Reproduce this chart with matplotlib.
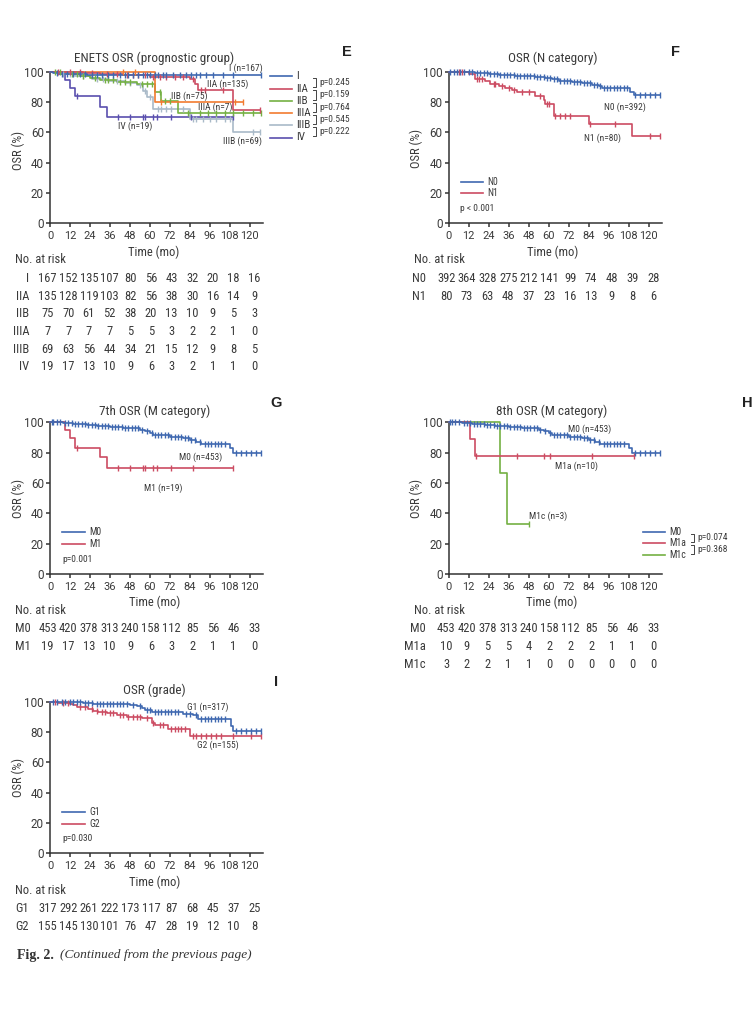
import numpy as np
import matplotlib
matplotlib.use("Agg")
import matplotlib.pyplot as plt
import matplotlib.transforms as mtransforms
from matplotlib.lines import Line2D
from matplotlib import font_manager

# pick a narrow sans if one is there
ttf = font_manager.fontManager.ttflist
names = {f.name for f in ttf}
cond_dejavu = [f for f in ttf if f.name == "DejaVu Sans" and "Condensed" in f.fname]
if "Liberation Sans Narrow" in names:
    plt.rcParams['font.family'] = ['Liberation Sans Narrow', 'DejaVu Sans']
    K = 1.0
elif "Roboto Condensed" in names:
    plt.rcParams['font.family'] = ['Roboto Condensed', 'DejaVu Sans']
    K = 1.0
elif cond_dejavu:
    plt.rcParams['font.family'] = ['DejaVu Sans']
    plt.rcParams['font.stretch'] = 'condensed'
    K = 0.92
else:
    plt.rcParams['font.family'] = ['Liberation Sans', 'DejaVu Sans']
    K = 0.86
TICK_FONT = ['Roboto', 'Liberation Sans', 'DejaVu Sans']

W, H = 752, 1031
BLUE = "#3f68b0"
RED = "#cc4c62"
GREEN = "#74b043"
ORANGE = "#f27b30"
GRAY = "#a9bac8"
PURPLE = "#5a4fae"
TXT = "#3a3a3a"

risk_times = [0, 12, 24, 36, 48, 60, 72, 84, 96, 108, 120]

# ---- E: ENETS prognostic group
e_groups = ["I", "IIA", "IIB", "IIIA", "IIIB", "IV"]
e_risk = [
    [167, 152, 135, 107, 80, 56, 43, 32, 20, 18, 16],
    [135, 128, 119, 103, 82, 56, 38, 30, 16, 14, 9],
    [75, 70, 61, 52, 38, 20, 13, 10, 9, 5, 3],
    [7, 7, 7, 7, 5, 5, 3, 2, 2, 1, 0],
    [69, 63, 56, 44, 34, 21, 15, 12, 9, 8, 5],
    [19, 17, 13, 10, 9, 6, 3, 2, 1, 1, 0],
]
e_pvals = ["p=0.245", "p=0.159", "p=0.764", "p=0.545", "p=0.222"]
e_I_t = [2, 5, 22]
e_I_s = [99.4, 98.7, 97.9]
e_I_c = [4, 7, 10, 14, 18, 21, 25, 28, 31, 35, 38, 42, 45, 47, 50, 53, 56, 58, 60, 63,
         65, 68, 70, 74, 78, 82, 85, 88, 90, 94, 98, 104, 110, 127]
e_IIA_t = [20, 30, 44, 60, 84, 87, 89, 110]
e_IIA_s = [99.2, 98.4, 97.5, 96.5, 95.0, 92.0, 87.6, 74.5]
e_IIA_c = [5, 12, 18, 25, 34, 40, 46, 50, 53, 57, 62, 66, 70, 75, 80, 86, 91, 93, 104, 126]
e_IIB_t = [10, 18, 24, 30, 40, 52, 63, 67, 77]
e_IIB_s = [98.5, 97.0, 95.7, 94.3, 93.2, 91.8, 86.3, 80.4, 72.8]
e_IIB_c = [3, 6, 13, 16, 20, 27, 33, 35, 38, 42, 45, 48, 55, 58, 61, 66, 69, 72, 83, 90,
           95, 100, 105, 110, 116, 122, 127]
e_IIIA_t = [63]
e_IIIA_s = [80.0]
e_IIIA_c = [44, 51, 67, 111, 116]
e_IIIB_t = [5, 15, 25, 35, 45, 52, 56, 58, 62, 84, 110]
e_IIIB_s = [98.5, 97.0, 95.5, 94.0, 92.5, 91.0, 87.0, 83.5, 75.5, 69.0, 60.5]
e_IIIB_c = [8, 12, 20, 28, 32, 40, 48, 54, 57, 60, 65, 67, 70, 73, 80, 86, 88, 92, 96,
            100, 105, 108, 122, 126]
e_IV_t = [9, 12, 15, 30, 34]
e_IV_s = [94.7, 89.5, 83.8, 77.0, 70.0]
e_IV_c = [16, 41, 48, 56, 57, 62, 64, 73, 85, 110]

# ---- F: N category
f_groups = ["N0", "N1"]
f_risk = [
    [392, 364, 328, 275, 212, 141, 99, 74, 48, 39, 28],
    [80, 73, 63, 48, 37, 23, 16, 13, 9, 8, 6],
]
f_N0_t = [10, 16, 24, 30, 40, 48, 52, 58, 62, 66, 74, 80, 86, 90, 92, 109, 111]
f_N0_s = [99.6, 99.0, 98.4, 97.8, 97.4, 97.0, 96.5, 95.6, 95.0, 94.0, 93.5, 92.5, 91.5,
          90.5, 89.5, 86.5, 84.6]
f_N0_c = [1, 3, 5, 7, 9, 12, 14, 17, 19, 21, 23, 25, 27, 29, 31, 33, 35, 37, 39, 41, 43,
          45, 47, 49, 51, 53, 55, 57, 59, 61, 63, 65, 67, 69, 71, 73, 75, 77, 79, 81, 83,
          85, 87, 89, 91, 93, 95, 97, 99, 101, 103, 105, 107, 112, 115, 118, 121, 124, 127]
f_N1_t = [12, 16, 22, 25, 30, 34, 38, 41, 52, 57, 58, 63, 84, 110]
f_N1_s = [98.7, 95.1, 93.9, 92.2, 90.7, 89.1, 87.6, 86.4, 84.2, 81.2, 78.6, 71.0, 65.5, 57.3]
f_N1_c = [6, 8, 17, 18, 20, 27, 28, 32, 36, 39, 44, 48, 55, 59, 60, 64, 67, 70, 73, 85,
          100, 121, 127]

# ---- G / H: M category
m0_t = [8, 14, 22, 28, 36, 44, 50, 54, 57, 60, 62, 72, 80, 84, 88, 91, 108, 110]
m0_s = [99.5, 99.0, 98.3, 97.6, 97.0, 96.5, 96.0, 95.0, 94.0, 93.0, 91.5, 90.5, 89.5,
        88.5, 87.3, 86.0, 83.0, 80.0]
m0_c = [1, 2, 4, 6, 9, 11, 13, 15, 17, 19, 21, 23, 25, 27, 29, 31, 33, 35, 37, 39, 41, 43,
        45, 47, 49, 51, 53, 55, 58, 61, 63, 65, 67, 69, 71, 73, 75, 77, 79, 81, 83, 85,
        87, 90, 93, 95, 97, 99, 101, 103, 105, 112, 115, 118, 121, 124, 127]
g_risk = [
    [453, 420, 378, 313, 240, 158, 112, 85, 56, 46, 33],
    [19, 17, 13, 10, 9, 6, 3, 2, 1, 1, 0],
]
g_M1_t = [9, 12, 15, 30, 34]
g_M1_s = [94.7, 89.5, 83.4, 76.9, 70.1]
g_M1_c = [16, 41, 48, 56, 57, 62, 64, 73, 86, 110]

h_groups = ["M0", "M1a", "M1c"]
h_risk = [
    [453, 420, 378, 313, 240, 158, 112, 85, 56, 46, 33],
    [10, 9, 5, 5, 4, 2, 2, 2, 1, 1, 0],
    [3, 2, 2, 1, 1, 0, 0, 0, 0, 0, 0],
]
h_pvals = ["p=0.074", "p=0.368"]
h_M1a_t = [13, 16]
h_M1a_s = [88.9, 77.8]
h_M1a_c = [16.5, 41, 57, 61, 86, 111]
h_M1c_t = [31, 35]
h_M1c_s = [66.7, 33.3]
h_M1c_c = [48]

# ---- I: grade
i_risk = [
    [317, 292, 261, 222, 173, 117, 87, 68, 45, 37, 25],
    [155, 145, 130, 101, 76, 47, 28, 19, 12, 10, 8],
]
i_G1_t = [10, 20, 26, 48, 52, 55, 57, 61, 80, 86, 89, 109, 110]
i_G1_s = [99.5, 99.0, 98.3, 97.8, 97.2, 95.8, 94.5, 93.0, 92.0, 91.2, 88.7, 84.0, 81.0]
i_G1_c = [2, 4, 7, 9, 12, 14, 16, 18, 21, 23, 25, 28, 30, 32, 34, 36, 38, 40, 42, 44, 46,
          50, 54, 58, 60, 63, 65, 67, 69, 71, 73, 75, 77, 82, 84, 88, 91, 93, 95, 97, 99,
          101, 103, 105, 112, 115, 118, 121, 124, 127]
i_G2_t = [5, 12, 14, 16, 23, 26, 29, 34, 40, 46, 55, 61, 63, 71, 84]
i_G2_s = [99.3, 98.6, 98.0, 96.6, 95.2, 93.8, 93.0, 92.3, 90.9, 90.2, 89.0, 86.2, 84.7,
          81.8, 77.6]
i_G2_c = [3, 8, 11, 18, 21, 25, 28, 31, 33, 36, 38, 42, 44, 47, 50, 52, 54, 58, 62, 66,
          68, 73, 75, 77, 79, 81, 86, 88, 91, 94, 97, 100, 103, 110, 121, 127]


fig = plt.figure(figsize=(W / 100, H / 100), dpi=100)


def fx(x):
    return x / W


def fy(y):
    return 1 - y / H


def make_axes(l, r, t, b):
    ax = fig.add_axes([fx(l), fy(b), (r - l) / W, (b - t) / H])
    ax.set_xlim(0, 128)
    ax.set_ylim(0, 100)
    ax.set_xticks(risk_times)
    ax.set_yticks([0, 20, 40, 60, 80, 100])
    for s in ["top", "right"]:
        ax.spines[s].set_visible(False)
    for s in ["left", "bottom"]:
        ax.spines[s].set_color("#333333")
        ax.spines[s].set_linewidth(1.1)
    ax.tick_params(length=3, width=1.1, color="#333333", labelsize=8.4,
                   labelcolor=TXT, pad=1.5)
    ax.tick_params(axis="x", pad=2.5, labelsize=7.9)
    for lab in ax.get_xticklabels() + ax.get_yticklabels():
        lab.set_family(TICK_FONT)
    ax.patch.set_alpha(0)
    return ax


def km(ax, times, surv, cens, color):
    end = max(cens + times)
    xs = [0] + times + [end]
    ys = [100] + surv + [surv[-1]]
    ax.step(xs, ys, where="post", color=color, lw=1.2, clip_on=False, zorder=3)
    t_arr = np.array(times)
    s_arr = np.array([100] + surv)
    cy = s_arr[np.searchsorted(t_arr, cens, side="right")]
    ax.plot(cens, cy, ls="none", marker="|", ms=4.5, mew=1.0, color=color,
            clip_on=False, zorder=4)


def risk_table(ax, labels, rows, ys, lab_x, lab_ha, head_x, head_y):
    tr = mtransforms.blended_transform_factory(ax.transData, fig.transFigure)
    fig.text(fx(head_x), fy(head_y), "No. at risk", fontsize=9 * K, color=TXT,
             ha="left", va="center")
    for lab, row, y in zip(labels, rows, ys):
        fig.text(fx(lab_x), fy(y), lab, fontsize=9 * K, color=TXT, ha=lab_ha, va="center")
        for t, n in zip(risk_times, row):
            ax.text(t * 1.035 - 1.5, fy(y), str(n), transform=tr, fontsize=9 * K,
                    color=TXT, ha="center", va="center")


def titles(ax, title, cx, ty, ylx, yly, xlab_y):
    fig.text(fx(cx), fy(ty), title, fontsize=9.5 * K, color=TXT, ha="center", va="center")
    fig.text(fx(ylx), fy(yly), "OSR (%)", fontsize=9 * K, color=TXT, ha="center",
             va="center", rotation=90)
    fig.text(fx(cx), fy(xlab_y), "Time (mo)", fontsize=9 * K, color=TXT, ha="center",
             va="center")


def legend(items, x0, x1, ys, fs=7.0):
    for (lab, col), y in zip(items, ys):
        fig.add_artist(Line2D([fx(x0), fx(x1)], [fy(y), fy(y)], color=col, lw=1.2,
                              transform=fig.transFigure))
        fig.text(fx(x1 + 4), fy(y), lab, fontsize=fs * K, color=TXT, ha="left",
                 va="center")


def brackets(pvals, ys, bx):
    for p, ya, yb in zip(pvals, ys[:-1], ys[1:]):
        y1, y2 = ya + 1.5, yb - 1.5
        fig.add_artist(Line2D([fx(bx - 3), fx(bx), fx(bx), fx(bx - 3)],
                              [fy(y1), fy(y1), fy(y2), fy(y2)], color="#444444",
                              lw=0.7, transform=fig.transFigure))
        fig.text(fx(bx + 3), fy((ya + yb) / 2), p, fontsize=6.8 * K, color=TXT,
                 ha="left", va="center")


def note(x, y, s, ha="right"):
    fig.text(fx(x), fy(y), s, fontsize=6.8 * K, color=TXT, ha=ha, va="center")


def letter(x, y, s):
    fig.text(fx(x), fy(y), s, fontsize=10.5, fontweight="bold", color="#222222",
             family=["Liberation Sans", "DejaVu Sans"], stretch="normal",
             ha="center", va="center")


# ---------------- E
axE = make_axes(50, 263, 71.7, 223.3)
km(axE, e_IV_t, e_IV_s, e_IV_c, PURPLE)
km(axE, e_IIIB_t, e_IIIB_s, e_IIIB_c, GRAY)
km(axE, e_IIB_t, e_IIB_s, e_IIB_c, GREEN)
km(axE, e_IIIA_t, e_IIIA_s, e_IIIA_c, ORANGE)
km(axE, e_IIA_t, e_IIA_s, e_IIA_c, RED)
km(axE, e_I_t, e_I_s, e_I_c, BLUE)
titles(axE, "ENETS OSR (prognostic group)", 154, 58.3, 18.3, 150, 252.3)
letter(347, 52, "E")
for s, x, y in [("I (n=167)", 263, 68), ("IIA (n=135)", 248, 84), ("IIB (n=75)", 208, 96),
                ("IIIA (n=7)", 233, 107.7), ("IV (n=19)", 152, 126.7),
                ("IIIB (n=69)", 262, 141.7)]:
    note(x, y, s)
e_ys = [76, 88.5, 101, 113, 125, 137.5]
legend(list(zip(e_groups, [BLUE, RED, GREEN, ORANGE, GRAY, PURPLE])), 270, 292, e_ys,
       fs=8)
brackets(e_pvals, e_ys, 316)
risk_table(axE, e_groups, e_risk, [278.3, 296, 313.7, 331.7, 349.3, 367], 29.5, "right",
           15, 260)

# ---------------- F
axF = make_axes(448.7, 662, 71.7, 223.3)
km(axF, f_N1_t, f_N1_s, f_N1_c, RED)
km(axF, f_N0_t, f_N0_s, f_N0_c, BLUE)
titles(axF, "OSR (N category)", 552.8, 58.7, 416.7, 148, 252.3)
letter(676, 52, "F")
note(646, 107.3, "N0 (n=392)")
note(621, 138.3, "N1 (n=80)")
legend([("N0", BLUE), ("N1", RED)], 461, 483, [182.3, 193.3])
note(460, 208.3, "p < 0.001", ha="left")
risk_table(axF, f_groups, f_risk, [278, 296], 412, "left", 414, 260)

# ---------------- G
axG = make_axes(50, 263, 422.3, 574.3)
km(axG, g_M1_t, g_M1_s, g_M1_c, RED)
km(axG, m0_t, m0_s, m0_c, BLUE)
titles(axG, "7th OSR (M category)", 154.2, 411.7, 18.3, 498, 602.7)
letter(276, 403, "G")
note(222, 457.3, "M0 (n=453)")
note(183, 488.3, "M1 (n=19)")
legend([("M0", BLUE), ("M1", RED)], 62, 85, [532.3, 544.3])
note(62, 559, "p=0.001", ha="left")
risk_table(axG, ["M0", "M1"], g_risk, [628.3, 646.7], 15, "left", 15, 610)

# ---------------- H
axH = make_axes(448.7, 662, 422.3, 574.3)
km(axH, h_M1c_t, h_M1c_s, h_M1c_c, GREEN)
km(axH, h_M1a_t, h_M1a_s, h_M1a_c, RED)
km(axH, m0_t, m0_s, m0_c, BLUE)
titles(axH, "8th OSR (M category)", 551.8, 411.7, 416.7, 498, 602.7)
letter(747, 403, "H")
note(611, 429, "M0 (n=453)")
note(598, 466.7, "M1a (n=10)")
note(567, 516.7, "M1c (n=3)")
h_ys = [532.3, 543.3, 555]
legend(list(zip(h_groups, [BLUE, RED, GREEN])), 643, 665, h_ys)
brackets(h_pvals, h_ys, 694)
risk_table(axH, h_groups, h_risk, [628.3, 646.7, 665], 426, "right", 414, 610)

# ---------------- I
axI = make_axes(50, 263, 701.7, 853.3)
km(axI, i_G2_t, i_G2_s, i_G2_c, RED)
km(axI, i_G1_t, i_G1_s, i_G1_c, BLUE)
titles(axI, "OSR (grade)", 154.2, 690.7, 18.3, 777.7, 882)
letter(276, 682, "I")
note(228, 707.7, "G1 (n=317)")
note(239, 745.7, "G2 (n=155)")
legend([("G1", BLUE), ("G2", RED)], 62, 85, [811.7, 824])
note(62, 838.3, "p=0.030", ha="left")
risk_table(axI, ["G1", "G2"], i_risk, [908.3, 926.7], 15, "left", 15, 890)

# caption
fig.text(fx(16.7), fy(955), "Fig. 2.", fontsize=10, fontweight="bold", color="#333333",
         family=["Liberation Serif", "DejaVu Serif"], stretch="normal",
         ha="left", va="center")
fig.text(fx(60), fy(955), "(Continued from the previous page)", fontsize=9.6,
         style="italic", color="#333333", family=["Liberation Serif", "DejaVu Serif"],
         stretch="normal", ha="left", va="center")

fig.savefig("out.png", dpi=100)
